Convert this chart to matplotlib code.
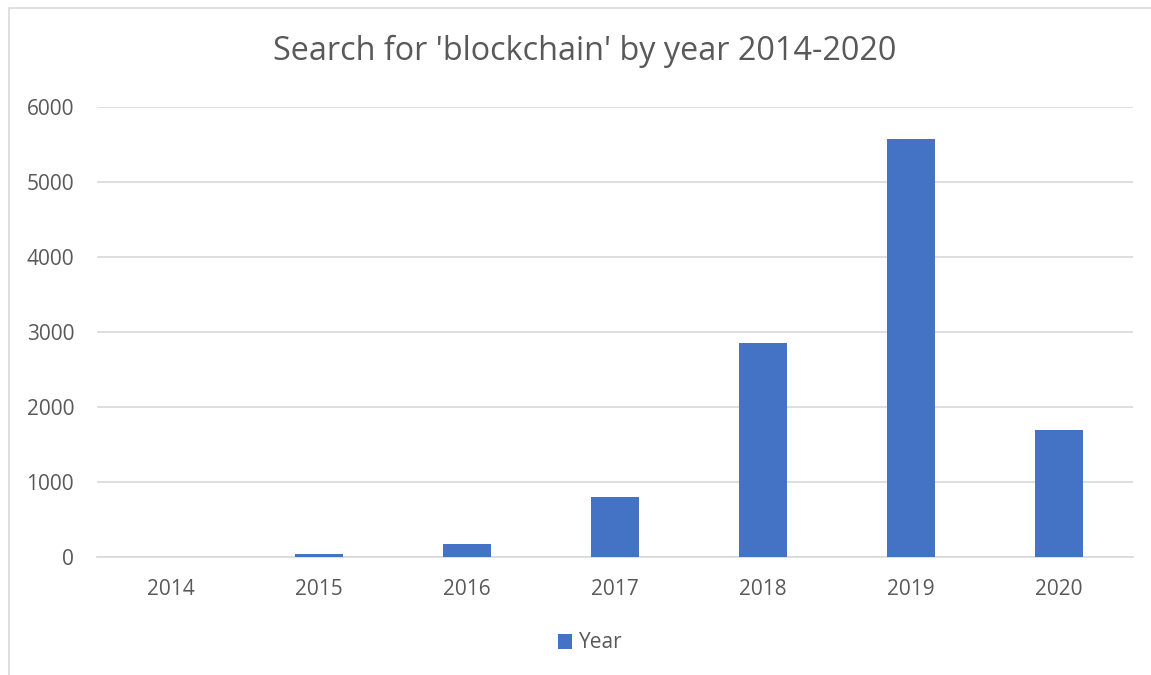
import matplotlib
matplotlib.use("Agg")
import matplotlib.pyplot as plt
from matplotlib.patches import Rectangle

categories = ["2014", "2015", "2016", "2017", "2018", "2019", "2020"]
values = [4, 38, 175, 800, 2860, 5570, 1690]
yticks = [0, 1000, 2000, 3000, 4000, 5000, 6000]
title = "Search for 'blockchain' by year 2014-2020"
series_name = "Year"

plt.rcParams['font.family'] = ['Open Sans', 'DejaVu Sans']
W, H = 1151, 675
fig = plt.figure(figsize=(W / 100, H / 100), dpi=100)
fig.patch.set_facecolor("white")

# outer chart frame
fig.add_artist(Rectangle((9 / W, -0.1), 1.2, 1 - 8 / H + 0.1, transform=fig.transFigure,
                         fill=False, edgecolor="#d9d9d9", linewidth=1.2))

ax = fig.add_axes([97 / W, 1 - 557 / H, (1133 - 97) / W, (557 - 107) / H])
x = list(range(len(categories)))
bars = ax.bar(x, values, width=0.32, color="#4472c4", label=series_name, zorder=3)
ax.set_xlim(-0.5, len(categories) - 0.5)
ax.set_ylim(0, 6000)
ax.set_yticks(yticks)
ax.set_yticklabels([str(t) for t in yticks])
ax.set_xticks(x)
ax.set_xticklabels(categories)
ax.grid(axis="y", color="#d9d9d9", linewidth=1.2, zorder=0)
for s in ["top", "right", "left"]:
    ax.spines[s].set_visible(False)
ax.spines["bottom"].set_color("#d9d9d9")
ax.spines["bottom"].set_linewidth(1.2)
ax.tick_params(axis="both", length=0, labelsize=15, labelcolor="#595959")
ax.tick_params(axis="y", pad=16.5)
ax.tick_params(axis="x", pad=16)

fig.text(585 / W, 1 - 51 / H, title, ha="center", va="center", fontsize=23.3, color="#595959")

leg = fig.legend(handles=[bars], labels=[series_name], loc="center", bbox_to_anchor=(590 / W, 1 - 643 / H),
                 frameon=False, fontsize=15, handlelength=0.7, handleheight=0.7, handletextpad=0.3)
for t in leg.get_texts():
    t.set_color("#595959")

fig.savefig("out.png", dpi=100, facecolor="white")
